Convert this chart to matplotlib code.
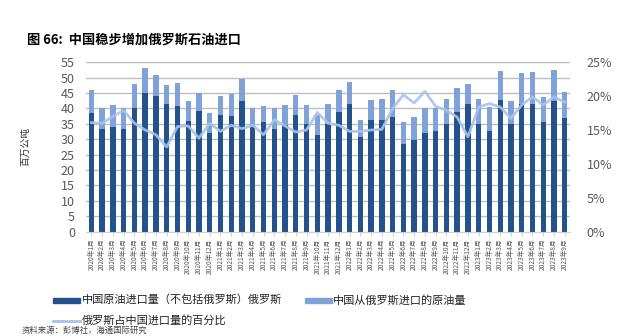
import matplotlib
matplotlib.use("Agg")
import matplotlib.pyplot as plt
import matplotlib.ticker as mticker
from matplotlib.patches import Rectangle
from matplotlib.lines import Line2D

plt.rcParams["font.family"] = ["Noto Sans CJK SC", "DejaVu Sans"]

# ── Data (million tonnes, monthly) ────────────────────────────────────────────
months = [f"{y}年{m}月" for y in (2020, 2021, 2022) for m in range(1, 13)] + \
         [f"2023年{m}月" for m in range(1, 10)]

ex_russia = [38.4, 33.3, 34.1, 33.3, 40.3, 45.1, 43.9, 41.5, 40.8, 36.0, 39.2, 32.1,
             37.9, 37.5, 42.3, 34.2, 35.7, 33.3, 34.7, 38.0, 34.9, 31.3, 34.9, 38.7,
             41.5, 30.8, 36.4, 36.4, 37.3, 28.4, 29.9, 32.1, 32.6, 35.1, 38.7, 41.4,
             35.1, 32.7, 42.7, 35.1, 41.4, 41.4, 35.6, 42.3, 36.9]

from_russia = [7.6, 6.7, 7.0, 7.0, 7.5, 7.9, 7.1, 6.0, 7.4, 6.3, 5.9, 6.3,
               6.3, 7.2, 7.2, 6.1, 5.1, 6.7, 6.4, 6.3, 6.2, 6.5, 6.5, 7.2,
               7.1, 5.6, 6.3, 6.7, 8.6, 7.2, 7.3, 8.2, 7.7, 8.0, 7.9, 6.4,
               8.0, 7.8, 9.5, 7.2, 10.0, 10.4, 8.0, 10.2, 8.5]

russia_share = [16.1, 16.0, 17.0, 17.9, 16.0, 15.0, 14.3, 12.5, 15.5, 15.6, 13.8, 16.0,
                14.8, 15.7, 15.2, 15.7, 14.3, 16.5, 15.6, 14.7, 15.0, 17.6, 16.0, 15.7,
                14.8, 14.8, 15.0, 15.1, 18.2, 20.2, 19.0, 20.7, 18.5, 17.9, 16.9, 14.0,
                18.4, 18.9, 18.4, 16.7, 18.7, 19.9, 18.7, 19.9, 19.1]

C_DARK  = "#24528c"
C_LIGHT = "#7fa3d9"
C_LINE  = "#a8c3ea"
C_TEXT  = "#595959"
C_GRID  = "#bfbfbf"

fig = plt.figure(figsize=(6.3, 3.36), dpi=100)
ax = fig.add_axes([0.1365, 0.311, 0.7685, 0.5035])
ax2 = ax.twinx()

x = list(range(len(months)))
ax.bar(x, ex_russia, width=0.5, color=C_DARK, zorder=2)
ax.bar(x, from_russia, width=0.5, bottom=ex_russia, color=C_LIGHT, zorder=2)

ax2.plot(x, [v / 100 for v in russia_share], color=C_LINE, lw=2.0, alpha=0.9, zorder=3)
ax2.set_zorder(ax.get_zorder() + 1)
ax2.patch.set_visible(False)

ax.set_xlim(-0.5, len(months) - 0.5)
ax.set_ylim(0, 55)
ax.set_yticks(range(0, 56, 5))
ax2.set_ylim(0, 0.25)
ax2.set_yticks([0, 0.05, 0.10, 0.15, 0.20, 0.25])
ax2.yaxis.set_major_formatter(mticker.FuncFormatter(lambda v, _: f"{v*100:.0f}%"))

ax.yaxis.grid(True, color=C_GRID, lw=1.0, zorder=0)
ax.set_axisbelow(True)

for a in (ax, ax2):
    for side in ("top", "right", "left"):
        a.spines[side].set_visible(False)
    a.spines["bottom"].set_color("#d0d0d0")
ax2.spines["bottom"].set_visible(False)

ax.tick_params(axis="y", length=0, labelsize=9, labelcolor=C_TEXT, pad=8)
ax2.tick_params(axis="y", length=0, labelsize=9, labelcolor=C_TEXT, pad=12)
ax.set_xticks(x)
ax.set_xticklabels(months, rotation=90, fontsize=4.8, color=C_TEXT)
ax.tick_params(axis="x", length=3, color="#d0d0d0", pad=2)

ax.set_ylabel("百万公吨", fontsize=7, color="#333333", labelpad=22)

fig.text(27 / 630, 1 - 40 / 336, "图 66:  中国稳步增加俄罗斯石油进口",
         fontsize=9.5, fontweight="bold", va="center", ha="left")

# legend drawn by hand in figure coordinates
def fx(px):
    return px / 630

def fy(py):
    return 1 - py / 336

fig.patches.append(Rectangle((fx(53), fy(303)), fx(27), 5 / 336, color=C_DARK,
                             transform=fig.transFigure, figure=fig))
fig.text(fx(82), fy(300), "中国原油进口量（不包括俄罗斯）俄罗斯", fontsize=8,
         va="center", ha="left", color="#222222")
fig.patches.append(Rectangle((fx(305), fy(303)), fx(27), 5 / 336, color=C_LIGHT,
                             transform=fig.transFigure, figure=fig))
fig.text(fx(333), fy(300), "中国从俄罗斯进口的原油量", fontsize=8,
         va="center", ha="left", color="#222222")
fig.lines.append(Line2D([fx(53), fx(80)], [fy(320.5), fy(320.5)], color=C_LINE, lw=2,
                        transform=fig.transFigure, figure=fig))
fig.text(fx(82), fy(320.5), "俄罗斯占中国进口量的百分比", fontsize=8,
         va="center", ha="left", color="#222222")

fig.text(fx(22), fy(326), "资料来源：彭博社，海通国际研究", fontsize=6,
         va="top", ha="left", color="#444444")

fig.savefig("out.png", dpi=100)
